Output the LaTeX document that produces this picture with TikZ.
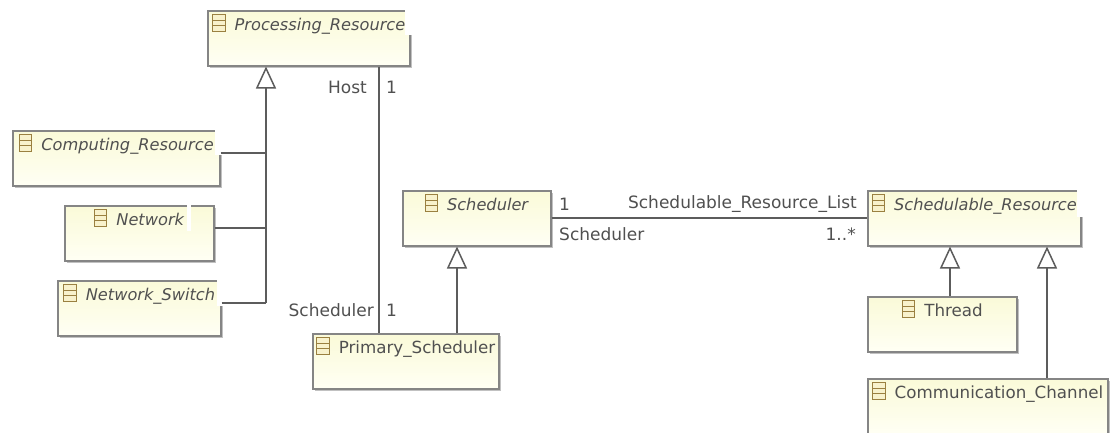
\documentclass[tikz,border=0pt]{standalone}
\usepackage{fontspec}
\setmainfont{DejaVu Sans}
\usetikzlibrary{arrows.meta,shadows}
\definecolor{boxtop}{HTML}{FAFAD8}
\definecolor{boxbottom}{HTML}{FFFFF4}
\definecolor{boxline}{HTML}{858585}
\definecolor{wireline}{HTML}{5C5C5C}
\definecolor{iconline}{HTML}{9A8040}
\definecolor{iconfill}{HTML}{F8F2CC}
\definecolor{labeltext}{HTML}{505050}
\newcommand{\classicon}{\tikz[x=1pt,y=1pt,baseline=1pt,line width=1pt]{\draw[iconline,fill=iconfill] (0,0) rectangle (12.5,17.5); \draw[iconline] (0,5.8) -- (12.5,5.8) (0,11.7) -- (12.5,11.7);}\hspace{9pt}}
\begin{document}
\begin{tikzpicture}[x=1pt,y=-1pt,
    classbox/.style={draw=boxline, line width=1.5pt, top color=boxtop, bottom color=boxbottom, anchor=north west, inner xsep=0pt, inner ysep=0pt, minimum height=55pt, text height=20pt, text depth=35pt, text=labeltext, font=\fontsize{16.2}{18}\selectfont, drop shadow={shadow xshift=2pt, shadow yshift=-2pt, fill=black!40, opacity=0.6}},
    upright/.style={font=\fontsize{16.7}{18}\selectfont},
    notch/.style={fill=white},
    wire/.style={draw=wireline, line width=1.5pt},
    gen/.style={wire, -{Triangle[open, fill=white, length=22pt, width=20pt]}},
    endtext/.style={text=labeltext, inner sep=0pt, font=\fontsize{17}{19}\selectfont}]
    \clip (0,0) rectangle (1111,432);
    \fill[white] (0,0) rectangle (1111,432);

    \node (processing) [classbox, minimum width=202pt] at (207,10) {\classicon\textit{Processing\_Resource}};
    \node (computing) [classbox, minimum width=207pt] at (12,130) {\classicon\textit{Computing\_Resource}};
    \node (network) [classbox, minimum width=149pt] at (64,205) {\classicon\textit{Network}};
    \node (switch) [classbox, minimum width=163pt] at (57,280) {\classicon\textit{Network\_Switch}};
    \node (primary) [classbox, upright, minimum width=186pt] at (312,333) {\classicon Primary\_Scheduler};
    \node (scheduler) [classbox, minimum width=148pt] at (402,190) {\classicon\textit{Scheduler}};
    \node (schedulable) [classbox, minimum width=213pt] at (867,190) {\classicon\textit{Schedulable\_Resource}};
    \node (thread) [classbox, upright, minimum width=149pt] at (867,296) {\classicon Thread};
    \node (channel) [classbox, upright, minimum width=240pt] at (867,378) {\classicon Communication\_Channel};

    \fill[notch] (405,9) rectangle (413,35);
    \fill[notch] (215,129) rectangle (223,155);
    \fill[notch] (187,204) rectangle (191,231);
    \fill[notch] (217,279) rectangle (224,306);
    \fill[notch] (1077,189) rectangle (1084,217);

    \coordinate (trunkc) at (266,153);
    \coordinate (trunkn) at (266,228);
    \coordinate (trunks) at (266,303);
    \draw[gen] (trunks) -- (processing.south -| trunks);
    \draw[wire] (computing.east |- trunkc) -- (trunkc);
    \draw[wire] (network.east |- trunkn) -- (trunkn);
    \draw[wire] (switch.east |- trunks) -- (trunks);

    \coordinate (hostx) at (379,200);
    \draw[wire] (processing.south -| hostx) -- (primary.north -| hostx);
    \node (hostname) [endtext, anchor=east] at (367,87) {Host};
    \node (hostmult) [endtext, anchor=west] at (386,87) {1};
    \node (schedname) [endtext, anchor=east] at (374,310) {Scheduler};
    \node (schedmult) [endtext, anchor=west] at (386,310) {1};

    \coordinate (primx) at (457,300);
    \draw[gen] (primary.north -| primx) -- (scheduler.south -| primx);

    \coordinate (listy) at (700,218);
    \draw[wire] (scheduler.east |- listy) -- (schedulable.west |- listy);
    \node (schedone) [endtext, anchor=west] at (559,204) {1};
    \node (listname) [endtext, anchor=east] at (857,204) {Schedulable\_Resource\_List};
    \node (backname) [endtext, anchor=west] at (559,234) {Scheduler};
    \node (listmult) [endtext, anchor=east] at (856,234) {1..*};

    \coordinate (threadx) at (950,300);
    \coordinate (channelx) at (1047,300);
    \draw[gen] (thread.north -| threadx) -- (schedulable.south -| threadx);
    \draw[gen] (channel.north -| channelx) -- (schedulable.south -| channelx);
\end{tikzpicture}
\end{document}
